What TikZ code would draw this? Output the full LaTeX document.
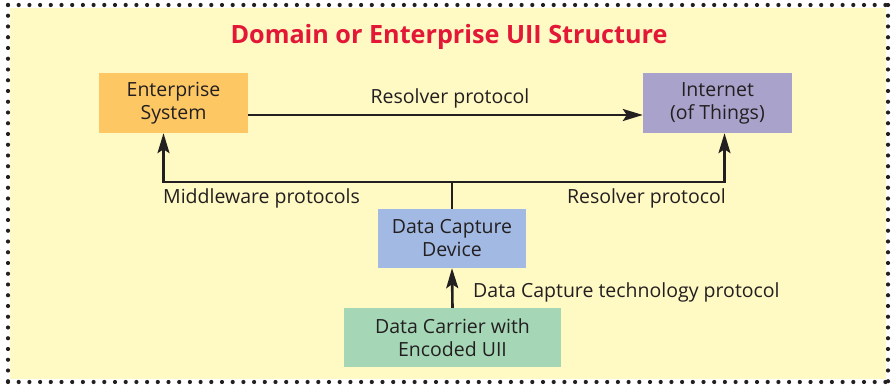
\documentclass[tikz,border=0pt]{standalone}
\usepackage{fontspec}
\setmainfont{Open Sans}
\usepackage{xcolor}
\usetikzlibrary{arrows.meta}
\usetikzlibrary{positioning}

\definecolor{paperyellow}{RGB}{255,249,196}
\definecolor{titlered}{RGB}{226,24,54}
\definecolor{esorange}{RGB}{253,200,100}
\definecolor{netlilac}{RGB}{169,163,204}
\definecolor{dcdblue}{RGB}{162,186,227}
\definecolor{carriergreen}{RGB}{165,215,183}
\definecolor{inkgray}{RGB}{35,31,32}

\tikzset{
	box/.style={draw=none, inner sep=0pt, align=center, text=inkgray,
		font=\fontsize{19.5}{23}\selectfont},
	link/.style={draw=inkgray, line width=2.6pt, -{Stealth[length=20pt, width=12pt, inset=4pt]}},
	wire/.style={draw=inkgray, line width=2.6pt},
	lbl/.style={text=inkgray, inner sep=0pt, font=\fontsize{19.5}{23}\selectfont},
}

\begin{document}
\begin{tikzpicture}[x=1pt, y=-1pt]
		
		\useasboundingbox (0, 0) rectangle (895, 387);
		\fill[paperyellow] (10, 8) rectangle (886, 379);
		\foreach \x in {8, 18.7, ..., 890} {
			\fill[inkgray] (\x, 5) circle (2.1);
			\fill[inkgray] (\x, 382) circle (2.1);
		}
		\foreach \y in {5, 15.75, ..., 384} {
			\fill[inkgray] (8, \y) circle (2.1);
			\fill[inkgray] (888, \y) circle (2.1);
		}
		
		\node[text=titlered, font=\fontsize{25.2}{28}\selectfont\bfseries] (title) at (449, 37) {Domain or Enterprise UII Structure};
		
		\node[box, fill=esorange, minimum width=149pt, minimum height=60pt] (es) at (173.5, 103) {Enterprise\\System};
		\node[box, fill=netlilac, minimum width=149pt, minimum height=60pt] (net) at (717.5, 103) {Internet\\(of Things)};
		\node[box, fill=dcdblue, minimum width=148pt, minimum height=59pt] (dcd) at (452, 238.5) {Data Capture\\Device};
		\node[box, fill=carriergreen, minimum width=217pt, minimum height=59pt] (dc) at (452.5, 337.5) {Data Carrier with\\Encoded UII};
		
		\coordinate (split) at (452, 182);
		
		\draw[link] (es.east |- 0, 115) -- (net.west |- 0, 115);
		\node[lbl] (resolvertop) at (450, 98) {Resolver protocol};
		
		\draw[wire] (dcd.north) -- (split);
		\draw[link] (split) -| ([xshift=-10pt]es.south);
		\draw[link] (split) -| ([xshift=7pt]net.south);
		\node[lbl, anchor=west] (middleware) at (163, 198) {Middleware protocols};
		\node[lbl, anchor=east] (resolverright) at (726, 198) {Resolver protocol};
		
		\draw[link] (dc.north) -- (dcd.south);
		\node[lbl, anchor=west] (dctech) at (473, 292) {Data Capture technology protocol};
		
	\end{tikzpicture}
\end{document}
